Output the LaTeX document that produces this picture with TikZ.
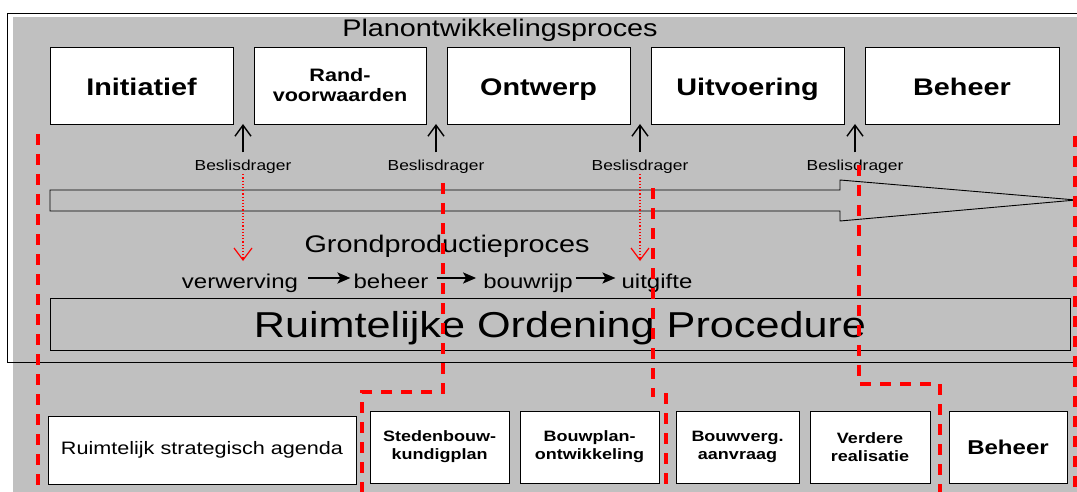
\documentclass[tikz,border=0pt]{standalone}
\usepackage{fontspec}
\setmainfont{Liberation Sans}[FakeStretch=1.2]
\usetikzlibrary{arrows.meta}

\definecolor{achtergrond}{HTML}{C0C0C0}

\tikzset{
  fase/.style={draw=black, fill=white, line width=0.9pt, minimum height=77pt, inner sep=0pt, align=center, text height=21pt, text depth=0pt, font=\bfseries\fontsize{24}{24}\selectfont},
  stap/.style={draw=black, fill=white, line width=0.9pt, minimum height=72pt, inner sep=0pt, align=center, font=\bfseries\fontsize{15}{18}\selectfont},
  grens/.style={red, line width=3.5pt, dash pattern=on 11pt off 9pt},
  beslis/.style={font=\fontsize{14.5}{15}\selectfont, inner sep=0pt, anchor=base},
  woord/.style={font=\fontsize{20}{20}\selectfont, inner sep=0pt, anchor=base},
  omhoog/.style={-{Straight Barb[length=11pt,width=16pt]}, line width=1.4pt},
  stippel/.style={red, dotted, line width=1.2pt, -{Straight Barb[length=12pt,width=18pt]}},
  volgt/.style={-{Stealth[length=13pt,width=11pt,inset=3pt]}, line width=2pt},
}

\begin{document}
\begin{tikzpicture}[x=1pt,y=-1pt]
\useasboundingbox (0,0) rectangle (1077,492);
\clip (0,0) rectangle (1077,492);
% achtergrond en kader
\fill[achtergrond] (13,17) rectangle (1077,492);
\draw[line width=0.9pt] (7,13) rectangle (1090,362);
\node[font=\fontsize{24}{24}\selectfont, anchor=base, inner sep=0pt] (plan) at (500,37) {Planontwikkelingsproces};

% fasen planontwikkeling
\node[fase, minimum width=183pt] (init) at (141.5,85.5) {Initiatief};
\node[fase, minimum width=172pt, text height=33pt, font=\bfseries\fontsize{18}{20}\selectfont] (rand) at (340,85.5) {Rand-\\voorwaarden};
\node[fase, minimum width=183pt] (ontw) at (538.5,85.5) {Ontwerp};
\node[fase, minimum width=193pt] (uitv) at (747.5,85.5) {Uitvoering};
\node[fase, minimum width=194pt] (beh) at (962,85.5) {Beheer};

% beslismomenten
\coordinate (g1) at (243,124);
\coordinate (g2) at (436,124);
\coordinate (g3) at (640,124);
\coordinate (g4) at (855,124);
\node[beslis] (bd1) at (243,171) {Beslisdrager};
\node[beslis] (bd2) at (436,171) {Beslisdrager};
\node[beslis] (bd3) at (640,171) {Beslisdrager};
\node[beslis] (bd4) at (855,171) {Beslisdrager};
\draw[omhoog] ([yshift=8pt]bd1.north) -- (g1);
\draw[omhoog] ([yshift=8pt]bd2.north) -- (g2);
\draw[omhoog] ([yshift=8pt]bd3.north) -- (g3);
\draw[omhoog] ([yshift=8pt]bd4.north) -- (g4);

% grote pijl
\draw[line width=0.9pt] (50,190) -- (840,190) -- (840,180) -- (1076,200) -- (840,221) -- (840,211) -- (50,211) -- cycle;

% grondproductie
\node[font=\fontsize{24}{24}\selectfont, anchor=base, inner sep=0pt] (grond) at (447,252) {Grondproductieproces};
\coordinate (d1) at (243,261);
\coordinate (d3) at (640,261);
\draw[stippel] (bd1.south) -- (d1);
\draw[stippel] (bd3.south) -- (d3);
\node[woord] (verw) at (240,288) {verwerving};
\node[woord] (behr) at (391,288) {beheer};
\node[woord] (bouw) at (528,288) {bouwrijp};
\node[woord] (uitg) at (657,288) {uitgifte};
\draw[volgt] ([xshift=10pt,yshift=10pt]verw.base east) -- ([xshift=-3pt,yshift=10pt]behr.base west);
\draw[volgt] ([xshift=8pt,yshift=10pt]behr.base east) -- ([xshift=-7pt,yshift=10pt]bouw.base west);
\draw[volgt] ([xshift=3pt,yshift=10pt]bouw.base east) -- ([xshift=-6pt,yshift=10pt]uitg.base west);

\node[draw, line width=0.9pt, minimum width=1020pt, minimum height=52pt, inner sep=0pt, text depth=0pt, font=\fontsize{36}{36}\selectfont] (ro) at (560,324) {Ruimtelijke Ordening Procedure};

% uitvoeringsstappen
\node[stap, minimum width=308pt, minimum height=68pt, font=\fontsize{18}{18}\selectfont] (agenda) at (202,450) {Ruimtelijk strategisch agenda};
\node[stap, minimum width=139pt] (sted) at (439.5,447) {Stedenbouw-\\kundigplan};
\node[stap, minimum width=139pt] (bplan) at (589.5,447) {Bouwplan-\\ontwikkeling};
\node[stap, minimum width=123pt] (bverg) at (737.5,447) {Bouwverg.\\aanvraag};
\node[stap, minimum width=120pt] (verd) at (870,447) {Verdere\\realisatie};
\node[stap, minimum width=118pt, font=\bfseries\fontsize{20}{20}\selectfont] (bbeh) at (1008,447) {Beheer};

% grenzen
\draw[grens] (38,134) -- (38,492);
\draw[grens] (443,183) -- (443,392) -- (362,392) -- (362,492);
\draw[grens] (653,188) -- (653,397);
\draw[grens] (666,393) -- (666,492);
\draw[grens] (859,165) -- (859,384) -- (940,384) -- (940,492);
\draw[grens] (1075,136) -- (1075,492);
\end{tikzpicture}
\end{document}
